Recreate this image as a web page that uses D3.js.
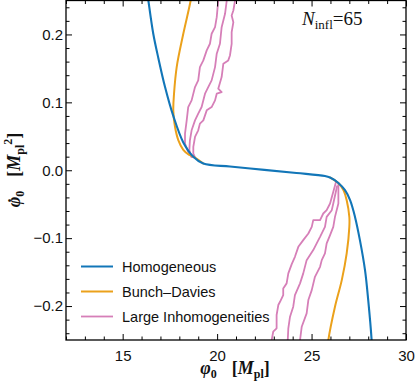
<!DOCTYPE html>
<html><head><meta charset="utf-8">
<script src="https://cdn.jsdelivr.net/npm/d3@7"></script>
<style>html,body{margin:0;padding:0;background:#fff;}svg{display:block;}</style>
</head><body>
<svg id="chart" width="415" height="389"></svg>
<script>
// ---------- data ----------
const xDomain = [12, 30];
const yDomain = [-0.25, 0.25];
const xMajorTicks = [15, 20, 25, 30];
const xMinorTicks = [12,13,14,16,17,18,19,21,22,23,24,26,27,28,29];
const yMajorTicks = [-0.2, -0.1, 0.0, 0.1, 0.2];
const yMinorTicks = [-0.24,-0.22,-0.18,-0.16,-0.14,-0.12,-0.08,-0.06,-0.04,-0.02,0.02,0.04,0.06,0.08,0.12,0.14,0.16,0.18,0.22,0.24];
const yTickLabels = ["\u22120.2", "\u22120.1", "0.0", "0.1", "0.2"];
const xTickLabels = ["15", "20", "25", "30"];
const legendLabels = ["Homogeneous", "Bunch\u2013Davies", "Large Inhomogeneities"];
const seriesColors = ["#1276b8", "#eba11b", "#d67fb8"];

// Homogeneous trajectory (phi0, dphi0)
const homogeneous = [
  [16.30,0.262],[16.36,0.25],[16.62,0.201],[16.89,0.165],[17.24,0.123],[17.68,0.080],
  [18.21,0.041],[18.74,0.020],[19.27,0.010],[20.68,0.0055],[22.5,0.0005],[24.2,-0.004],
  [25.71,-0.0084],[25.98,-0.0107],[26.42,-0.0187],[26.77,-0.0294],[27.04,-0.0441],
  [27.30,-0.0687],[27.56,-0.1029],[27.83,-0.1471],[28.00,-0.1912],[28.18,-0.25],[28.20,-0.262]
];
// Bunch-Davies: two branches
const bunchDaviesTop = [
  [18.66,0.262],[18.60,0.25],[18.21,0.201],[17.86,0.152],[17.72,0.113],[17.68,0.088],
  [17.77,0.064],[17.95,0.044],[18.21,0.030],[18.50,0.023],[18.74,0.020],[19.27,0.010]
];
const bunchDaviesBottom = [
  [25.98,-0.0107],[26.42,-0.0187],[26.70,-0.030],[26.86,-0.0441],[27.00,-0.0687],[27.00,-0.0834],
  [26.86,-0.1225],[26.60,-0.1618],[26.24,-0.201],[25.89,-0.25],[25.85,-0.262]
];
// Large inhomogeneities: three runs, each with an upper and a lower branch
const inhomTop1 = [
  [20.08,0.262],[20.06,0.25],[19.98,0.2254],[19.89,0.2107],[19.71,0.201],[19.62,0.1863],[19.45,0.1765],
  [19.27,0.1618],[19.09,0.1519],[19.00,0.1324],[18.83,0.1225],[18.65,0.1029],[18.47,0.0931],
  [18.39,0.0735],[18.30,0.054],[18.30,0.0393],[18.47,0.0269],[18.65,0.0196],[18.80,0.019]
];
const inhomTop2 = [
  [20.53,0.262],[20.51,0.25],[20.42,0.2304],[20.24,0.2107],[20.15,0.1863],[19.98,0.1716],[19.89,0.1519],
  [19.71,0.1324],[19.53,0.1225],[19.36,0.1128],[19.18,0.0931],[19.00,0.0834],[18.83,0.0735],
  [18.65,0.0588],[18.56,0.0441],[18.53,0.0294],[18.65,0.0196],[18.80,0.019]
];
const inhomTop3 = [
  [20.97,0.262],[20.95,0.25],[20.86,0.2353],[20.77,0.228],[20.86,0.218],[20.77,0.2035],[20.77,0.186],
  [20.68,0.169],[20.59,0.1618],[20.33,0.1569],[20.24,0.1372],[20.06,0.1201],[20.24,0.1151],
  [19.98,0.1128],[19.89,0.1029],[19.71,0.0931],[19.45,0.0882],[19.27,0.0735],[19.09,0.0687],
  [19.00,0.0588],[18.83,0.049],[18.74,0.0343],[18.74,0.0246],[18.85,0.018]
];
const inhomBottom1 = [
  [26.29,-0.0176],[25.98,-0.049],[25.80,-0.0588],[25.62,-0.0637],[25.45,-0.0735],[25.09,-0.0735],
  [25.01,-0.0834],[24.83,-0.0931],[24.56,-0.1029],[24.30,-0.1128],[24.12,-0.1275],[23.95,-0.1382],
  [23.77,-0.1519],[23.68,-0.1666],[23.50,-0.174],[23.50,-0.1838],[23.33,-0.1937],[23.24,-0.1985],
  [23.15,-0.2132],[23.15,-0.2328],[22.97,-0.2378],[22.89,-0.25],[22.87,-0.262]
];
const inhomBottom2 = [
  [26.35,-0.0235],[26.15,-0.049],[26.07,-0.0588],[25.80,-0.0687],[25.71,-0.0834],[25.45,-0.0981],
  [25.36,-0.1029],[25.09,-0.1176],[24.74,-0.1324],[24.56,-0.1519],[24.39,-0.1666],[24.12,-0.1838],
  [24.03,-0.201],[23.86,-0.2157],[23.77,-0.2328],[23.74,-0.25],[23.73,-0.262]
];
const inhomBottom3 = [
  [26.42,-0.021],[26.42,-0.049],[26.24,-0.0687],[26.15,-0.0834],[25.98,-0.0956],[25.80,-0.1078],
  [25.71,-0.1225],[25.54,-0.1324],[25.45,-0.1422],[25.18,-0.1569],[25.01,-0.1765],[24.83,-0.1912],
  [24.74,-0.2107],[24.48,-0.2304],[24.39,-0.25],[24.37,-0.262]
];

// ---------- layout ----------
const plot = {left: 66, right: 406, top: 0.5, bottom: 340};
const svg = d3.select("#chart");
const x = d3.scaleLinear().domain(xDomain).range([plot.left, plot.right]);
const y = d3.scaleLinear().domain(yDomain).range([plot.bottom, plot.top]);

svg.append("defs").append("clipPath").attr("id","clip")
  .append("rect").attr("x", plot.left).attr("y", plot.top)
  .attr("width", plot.right - plot.left).attr("height", plot.bottom - plot.top);

const line = d3.line().x(d => x(d[0])).y(d => y(d[1]));
const smooth = d3.line().curve(d3.curveCatmullRom.alpha(0.5)).x(d => x(d[0])).y(d => y(d[1]));
const curves = svg.append("g").attr("clip-path","url(#clip)").attr("fill","none")
  .attr("stroke-linejoin","round").attr("stroke-linecap","round");

[inhomTop1, inhomTop2, inhomTop3, inhomBottom1, inhomBottom2, inhomBottom3].forEach(d => {
  curves.append("path").attr("d", line(d)).attr("stroke", seriesColors[2]).attr("stroke-width", 1.8);
});
[bunchDaviesTop, bunchDaviesBottom].forEach(d => {
  curves.append("path").attr("d", smooth(d)).attr("stroke", seriesColors[1]).attr("stroke-width", 2);
});
curves.append("path").attr("d", smooth(homogeneous))
  .attr("stroke", seriesColors[0]).attr("stroke-width", 2.1);

// ---------- axes (ticks inside) ----------
function styleAxis(g) {
  g.select(".domain").remove();
  g.selectAll(".tick line").attr("stroke", "#000").attr("stroke-width", 1);
}
const labelFont = "'Liberation Sans', Arial, sans-serif";

// bottom
svg.append("g").attr("transform", `translate(0,${plot.bottom})`)
  .call(d3.axisBottom(x).tickValues(xMinorTicks).tickSize(-3.5).tickFormat(""))
  .call(styleAxis);
svg.append("g").attr("transform", `translate(0,${plot.bottom})`)
  .call(d3.axisBottom(x).tickValues(xMajorTicks).tickSize(-6).tickPadding(10)
    .tickFormat((d,i) => xTickLabels[i]))
  .call(styleAxis)
  .call(g => g.selectAll("text").attr("font-family", labelFont).attr("font-size", 15).attr("fill","#111").attr("dy","0.71em").attr("y", 10));
// top
svg.append("g").attr("transform", `translate(0,${plot.top})`)
  .call(d3.axisTop(x).tickValues(xMinorTicks).tickSize(-3.5).tickFormat("")).call(styleAxis);
svg.append("g").attr("transform", `translate(0,${plot.top})`)
  .call(d3.axisTop(x).tickValues(xMajorTicks).tickSize(-6).tickFormat("")).call(styleAxis);
// left
svg.append("g").attr("transform", `translate(${plot.left},0)`)
  .call(d3.axisLeft(y).tickValues(yMinorTicks).tickSize(-3.5).tickFormat("")).call(styleAxis);
svg.append("g").attr("transform", `translate(${plot.left},0)`)
  .call(d3.axisLeft(y).tickValues(yMajorTicks).tickSize(-6).tickPadding(3)
    .tickFormat((d,i) => yTickLabels[i]))
  .call(styleAxis)
  .call(g => g.selectAll("text").attr("font-family", labelFont).attr("font-size", 15).attr("fill","#111").attr("x", -3));
// right
svg.append("g").attr("transform", `translate(${plot.right},0)`)
  .call(d3.axisRight(y).tickValues(yMinorTicks).tickSize(-3.5).tickFormat("")).call(styleAxis);
svg.append("g").attr("transform", `translate(${plot.right},0)`)
  .call(d3.axisRight(y).tickValues(yMajorTicks).tickSize(-6).tickFormat("")).call(styleAxis);

// frame
svg.append("rect").attr("x", plot.left).attr("y", plot.top)
  .attr("width", plot.right - plot.left).attr("height", plot.bottom - plot.top)
  .attr("fill","none").attr("stroke","#000").attr("stroke-width",1.3);

// ---------- axis titles ----------
const serif = "'Liberation Serif', 'Times New Roman', serif";
const xt = svg.append("text").attr("x", 235).attr("y", 374).attr("text-anchor","middle")
  .attr("font-family", serif).attr("font-weight","bold").attr("font-size", 18).attr("fill","#111");
xt.append("tspan").attr("font-style","italic").text("\u03c6");
xt.append("tspan").attr("font-size", 12).attr("dy", 4).text("0");
xt.append("tspan").attr("dy", -4).attr("dx", 15).text("[");
xt.append("tspan").attr("font-style","italic").text("M");
xt.append("tspan").attr("font-size", 12).attr("dy", 4).text("pl");
xt.append("tspan").attr("dy", -4).text("]");

const ylab = svg.append("g").attr("transform","translate(20,170) rotate(-90)");
const yt = ylab.append("text").attr("text-anchor","middle")
  .attr("font-family", serif).attr("font-weight","bold").attr("font-size", 18).attr("fill","#111");
yt.append("tspan").attr("font-style","italic").text("\u03c6");
yt.append("tspan").attr("font-size", 12).attr("dy", 4).text("0");
yt.append("tspan").attr("dy", -4).attr("dx", 14).text("[");
yt.append("tspan").attr("font-style","italic").text("M");
yt.append("tspan").attr("font-size", 12).attr("dy", 4).text("pl");
yt.append("tspan").attr("font-size", 12).attr("dy", -12).text("2");
yt.append("tspan").attr("dy", 8).text("]");
// dot over phi (time derivative)
const ext = yt.node().getExtentOfChar(0);
ylab.append("text").attr("x", ext.x + ext.width / 2 + 1.5).attr("y", 1).attr("text-anchor","middle")
  .attr("font-family", serif).attr("font-weight","bold").attr("font-size", 18).attr("fill","#111")
  .text("\u02d9");

// ---------- annotation ----------
const ann = svg.append("text").attr("x", 302).attr("y", 25)
  .attr("font-family", serif).attr("font-size", 19).attr("fill","#111");
ann.append("tspan").attr("font-style","italic").text("N");
ann.append("tspan").attr("font-size", 13).attr("dy", 4).text("infl");
ann.append("tspan").attr("dy", -4).text("=65");

// ---------- legend ----------
const legend = svg.append("g");
legendLabels.forEach((lab, i) => {
  const ly = 266.5 + i * 25;
  legend.append("line").attr("x1", 81).attr("x2", 113).attr("y1", ly).attr("y2", ly)
    .attr("stroke", seriesColors[i]).attr("stroke-width", i === 2 ? 1.8 : 2);
  legend.append("text").attr("x", 122).attr("y", ly).attr("dy","0.35em")
    .attr("font-family", labelFont).attr("font-size", 14.5).attr("fill","#111").text(lab);
});
</script>
</body></html>
